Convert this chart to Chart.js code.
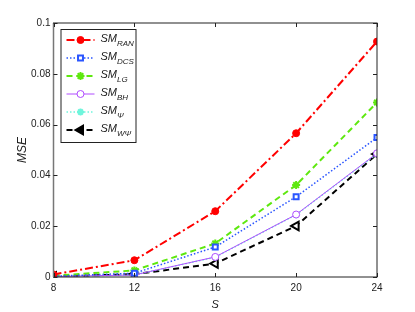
<!DOCTYPE html>
<html>
<head>
<meta charset="utf-8">
<script src="https://cdn.jsdelivr.net/npm/chart.js@4"></script>
<style>
  html, body { margin: 0; padding: 0; background: #fff; }
  #wrap { width: 415px; height: 312px; }
</style>
</head>
<body>
<div id="wrap"><canvas id="mseChart" width="415" height="312"></canvas></div>
<script>
const sizes = [8, 12, 16, 20, 24];
const yTicks = [0, 0.02, 0.04, 0.06, 0.08, 0.1];

const smRan = [0.0010, 0.0066, 0.0259, 0.0566, 0.0927];
const smDcs = [0.0003, 0.0015, 0.0118, 0.0316, 0.0549];
const smLg = [0.0005, 0.0026, 0.0132, 0.0362, 0.0687];
const smBh = [0.0002, 0.0008, 0.0079, 0.0246, 0.0487];
const smPsi = [0.0002, 0.0008, 0.0078, 0.0245, 0.0485];
const smWpsi = [0.0002, 0.0011, 0.0053, 0.0201, 0.0484];

const subs = ["RAN", "DCS", "LG", "BH", "\u03A8", "W\u03A8"];

const FONT = "'Liberation Sans', Arial, sans-serif";

const mk = (data, label, color, dash, width, style, radius, fill, bw) => ({
  label,
  data: data.map((v, i) => ({ x: sizes[i], y: v })),
  borderColor: color,
  borderDash: dash,
  borderWidth: width,
  pointStyle: style,
  pointRadius: radius,
  pointBackgroundColor: fill,
  pointBorderColor: color,
  pointBorderWidth: bw,
  tension: 0,
  fill: false,
});

const datasets = [
  mk(smRan, "RAN", "#ff0000", [8, 3, 2, 3], 2, "circle", 3.5, "#ff0000", 1),
  mk(smDcs, "DCS", "#2a55ff", [1.5, 2], 1.5, "rect", 3.5, "#ffffff", 2),
  mk(smLg, "LG", "#5ee80f", [6, 4], 2, "star", 4, "#5ee80f", 2),
  mk(smBh, "BH", "#b04cff", [], 1, "circle", 3.5, "#ffffff", 1),
  mk(smPsi, "\u03A8", "#6ff5dc", [1.5, 2], 1.5, "star", 3.5, "#6ff5dc", 2),
  mk(smWpsi, "W\u03A8", "#000000", [6, 4], 2, "triangle", 5, "#ffffff", 2),
];
datasets[5].pointRotation = 270;

// axes box, inward tick marks and the legend with subscripts
const framePlugin = {
  id: "frame",
  afterDraw(chart) {
    const { ctx, chartArea: a, scales } = chart;
    ctx.save();
    ctx.setLineDash([]);
    ctx.strokeStyle = "#222";
    ctx.lineWidth = 1;
    ctx.strokeRect(a.left, a.top, a.right - a.left, a.bottom - a.top);
    ctx.strokeStyle = "#777";
    ctx.lineWidth = 1.5;
    ctx.beginPath();
    ctx.moveTo(a.left, a.top);
    ctx.lineTo(a.left, a.bottom);
    ctx.stroke();

    ctx.strokeStyle = "#222";
    ctx.lineWidth = 1;
    ctx.beginPath();
    sizes.forEach(s => {
      const x = Math.round(scales.x.getPixelForValue(s)) + 0.5;
      ctx.moveTo(x, a.bottom); ctx.lineTo(x, a.bottom - 4);
      ctx.moveTo(x, a.top); ctx.lineTo(x, a.top + 4);
    });
    yTicks.forEach(v => {
      const y = Math.round(scales.y.getPixelForValue(v)) + 0.5;
      ctx.moveTo(a.left, y); ctx.lineTo(a.left + 4, y);
      ctx.moveTo(a.right, y); ctx.lineTo(a.right - 4, y);
    });
    ctx.stroke();

    // legend
    const lx = a.left + 7, ly = a.top + 6, lw = 75, lh = 113;
    ctx.fillStyle = "#fff";
    ctx.fillRect(lx, ly, lw, lh);
    ctx.strokeStyle = "#222";
    ctx.strokeRect(lx + 0.5, ly + 0.5, lw, lh);
    datasets.forEach((ds, i) => {
      const y = ly + 11 + i * 18;
      ctx.strokeStyle = ds.borderColor;
      ctx.lineWidth = ds.borderWidth;
      ctx.setLineDash(ds.borderDash);
      ctx.beginPath();
      ctx.moveTo(lx + 6, y);
      ctx.lineTo(lx + 34, y);
      ctx.stroke();
      ctx.setLineDash([]);
      ctx.lineWidth = ds.pointBorderWidth;
      ctx.fillStyle = i === 5 ? "#000" : ds.pointBackgroundColor;
      Chart.helpers.drawPoint(ctx, {
        pointStyle: ds.pointStyle,
        radius: ds.pointRadius,
        rotation: ds.pointRotation || 0,
        borderWidth: ds.pointBorderWidth,
      }, lx + 20, y);
      ctx.fillStyle = "#222";
      ctx.font = "italic 11px " + FONT;
      ctx.textAlign = "left";
      ctx.textBaseline = "alphabetic";
      ctx.fillText("SM", lx + 40, y + 2);
      const w = ctx.measureText("SM").width;
      ctx.font = "italic 8px " + FONT;
      ctx.fillText(subs[i], lx + 40 + w, y + 6);
    });
    ctx.restore();
  },
};

new Chart(document.getElementById("mseChart"), {
  type: "line",
  data: { datasets },
  options: {
    responsive: false,
    animation: false,
    layout: { padding: { top: 23, right: 38, left: 0, bottom: 0 } },
    plugins: { legend: { display: false }, tooltip: { enabled: false } },
    scales: {
      x: {
        type: "linear",
        min: 8,
        max: 24,
        afterBuildTicks: s => { s.ticks = sizes.map(v => ({ value: v })); },
        afterFit: s => { s.height = 35; },
        grid: { display: false, drawTicks: false },
        border: { display: false },
        ticks: { color: "#222", font: { family: FONT, size: 10 }, padding: 5 },
        title: {
          display: true, text: "S", color: "#222", padding: { top: 11, bottom: 0 },
          font: { family: FONT, size: 11, style: "italic" },
        },
      },
      y: {
        min: 0,
        max: 0.1,
        afterBuildTicks: s => { s.ticks = yTicks.map(v => ({ value: v })); },
        afterFit: s => { s.width = 53.5; },
        grid: { display: false, drawTicks: false },
        border: { display: false },
        ticks: { color: "#222", font: { family: FONT, size: 10 }, padding: 3,
          callback: v => String(+v.toFixed(2)) },
        title: {
          display: true, text: "MSE", color: "#222", padding: { top: 15, bottom: 0 },
          font: { family: FONT, size: 12, style: "italic" },
        },
      },
    },
  },
  plugins: [framePlugin],
});
</script>
</body>
</html>
